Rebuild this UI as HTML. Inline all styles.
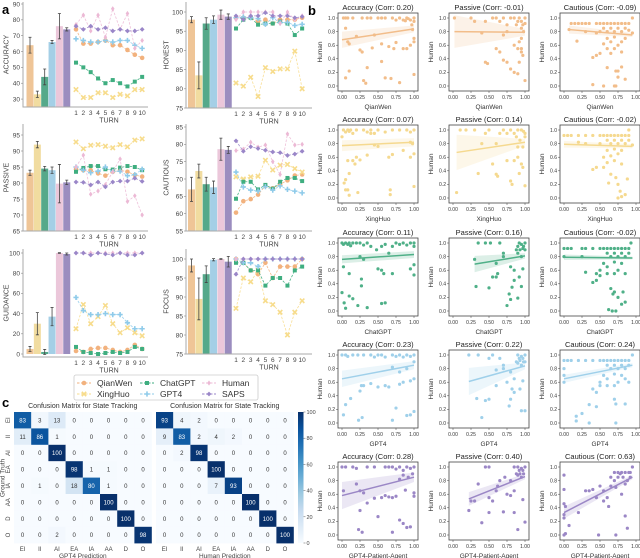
<!DOCTYPE html>
<html><head><meta charset="utf-8">
<style>
html,body{margin:0;padding:0;background:#fff;}
svg{display:block;font-family:"Liberation Sans","DejaVu Sans",sans-serif;}
</style></head>
<body>
<svg id="fig" width="640" height="558" viewBox="0 0 640 558" xmlns="http://www.w3.org/2000/svg"></svg>
<script>
// ---------- Panel a data ----------
const seriesNames=['QianWen','XingHuo','ChatGPT','GPT4','Human','SAPS'];
const turns=[1,2,3,4,5,6,7,8,9,10];
const accBars=[64,33,44,66,76,74];
const accErr=[5,2,5,1,8,1];
const accLines=[
[74,65,65,66,67,64,64,61,58,56],
[36,31,31,34,34,31,33,32,36,36],
[53,50,47,43,40,42,40,38,41,44],
[68,67,66,66,67,66,67,67,64,62],
[77,83,73,83,69,87,74,84,62,67],
[76,74,76,74,75,73,74,73,73,74]];
const honBars=[98,83.5,97,98,99.3,98.8];
const honErr=[0.8,3.5,1.5,1,1.2,0.7];
const honLines=[
[98.5,98.5,98.5,97.5,98,97,98,98,98,98.5],
[81.5,80.7,83,78,85.5,84.5,85.2,85.2,89.8,80],
[95.7,98,98.5,96.7,97,97,97.5,97,94,95.7],
[98.5,98.7,98.5,98.3,96.8,98.5,97.2,97.3,96.5,96.8],
[98,100,100,100,100,100,97,100,98,99],
[99,98,99,99,99.8,99,99,99,98.5,98.8]];
const pasBars=[83.2,92,84.5,84,79.8,80.2];
const pasErr=[0.8,1,0.7,1,6,0.7];
const pasLines=[
[84.3,84,84,83,82.3,83.5,84,83.5,82.5,82],
[92.8,90.7,91.8,92,91.5,91,92,91.3,93.4,93.8],
[83.5,84.7,85.3,85.3,84.3,84.2,84.8,85.3,85,84],
[85,84,83.2,83.7,85,83.6,83.7,82.3,82.6,84.3],
[85,88.7,76.5,77.5,79.5,83.5,87.5,74.2,76,70],
[80.3,80.2,79.4,80.3,78.8,80.3,80.6,80.6,81.5,80.5]];
const cauBars=[67,72.3,68.5,67.6,78.6,78.4];
const cauErr=[3.5,2,2,1.8,3.2,1];
const cauLines=[
[60.3,63.6,64.2,65.5,68,67.3,68.5,69.6,71,71.3],
[70.6,70,70.6,70.8,75.4,72.6,74,74.2,73,72],
[64.3,69.2,69.2,67,68.3,67.2,69.2,70.3,70.3,69.4],
[72,67.7,66.8,66.5,67.8,66.8,68,67,66.5,66],
[78.2,78.6,80.6,79.2,79.8,75,71.3,83,79.8,80],
[81,78,79.3,78.8,78.3,77.8,77.6,76.8,77.2,78]];
const guiBars=[5,30,2,37,100,99];
const guiErr=[2.5,11,2.5,9,0.3,1];
const guiLines=[
[3,2,5,6,6,4,2,4,9,5],
[25,49,30,37,48,30,21,26,21,18],
[7,2,1,0,1,2,1,2,7,5],
[56,43,39,39,40,39,39,31,25,25],
[100,100,100,100,100,100,100,100,100,100],
[100,100,98,100,99,98,100,98,98,100]];
const focBars=[98.3,89.5,96,99.8,100,99.3];
const focErr=[1.7,5.5,2.2,0.3,0.1,1.4];
const focLines=[
[100,99,97,96,99,95,98,98,98,100],
[87,95,94,97,89,88,86,80,86,89],
[99,99,97,97,93,95,95,93,97,98],
[100,99,99,98,100,100,100,100,100,100],
[100,100,100,100,100,100,100,100,100,100],
[96,100,100,100,100,100,100,100,100,100]];

// ---------- Panel c data ----------
const stateLabels=['EI','II','AI','EA','IA','AA','D','O'];
const cmGPT4=[
[83,3,13,0,0,0,0,0],[11,86,1,0,0,0,0,0],[0,0,100,0,0,0,0,0],[0,0,0,98,1,1,0,0],
[0,1,0,18,80,1,0,0],[0,0,0,0,0,100,0,0],[0,0,0,0,0,0,100,0],[0,0,2,0,0,0,0,98]];
const cmHuman=[
[93,4,2,0,0,0,0,0],[9,83,2,4,2,0,0,0],[0,2,98,0,0,0,0,0],[0,0,0,100,0,0,0,0],
[0,0,0,7,93,0,0,0],[0,0,0,0,0,100,0,0],[0,0,0,0,0,0,100,0],[0,0,0,0,0,0,0,100]];
const cbTicks=[0,20,40,60,80,100];

// ---------- Panel b data ----------
const scModels=['QianWen','XingHuo','ChatGPT','GPT4','GPT4-Patient-Agent'];
const scMetrics=['Accuracy','Passive','Cautious'];
const scCorr=[[0.20,-0.01,-0.09],[0.07,0.14,-0.02],[0.11,0.16,-0.02],[0.23,0.22,0.24],[0.28,0.40,0.63]];
// regression lines: [x0,y0,x1,y1]
const scLines=[
[[0,0.68,1,0.84],[0.02,0.80,1,0.79],[0.07,0.83,0.95,0.75]],
[[0,0.77,1,0.82],[0.05,0.67,1,0.82],[0,0.79,0.95,0.76]],
[[0,0.76,1,0.83],[0.3,0.69,1,0.81],[0,0.79,0.95,0.78]],
[[0,0.65,1,0.85],[0.22,0.61,1,0.84],[0,0.65,0.95,0.85]],
[[0,0.58,1,0.85],[0.22,0.53,1,0.86],[0,0.33,0.95,0.85]]];
// CI half-width at start / end
const scBand=[
[[0.12,0.05],[0.24,0.05],[0.06,0.03]],
[[0.08,0.06],[0.26,0.05],[0.05,0.03]],
[[0.06,0.05],[0.12,0.04],[0.04,0.02]],
[[0.12,0.06],[0.2,0.05],[0.06,0.03]],
[[0.2,0.07],[0.1,0.04],[0.09,0.03]]];
const accPtsA=[[.02,1],[.05,1],[.08,1],[.15,1],[.28,1],[.35,1],[.4,1],[.5,1],[.55,1],[.6,1],[.7,1],[.75,.97],[.8,1],[.85,.97],[.9,1],[.95,.97],[1,1],[1,.95],[.98,.83],[1,.7],[1,.65],[.95,.6],[.05,.85],[.08,.65],[.1,.62],[.05,.12],[.1,.22],[.25,.53],[.28,.5],[.3,.08],[.33,.04],[.35,.27],[.42,.56],[.55,.36],[.55,.62],[.6,.12],[.65,.58],[.68,.11],[.72,.55],[.75,.64],[.8,.05],[.85,.55],[.9,.55],[1,.17],[.45,.75],[.2,.73],[.88,.96],[.92,.99],[.97,.9]];
const accPtsB=[[.02,1],[.05,.97],[.08,1],[.1,.98],[.12,1],[.15,.95],[.2,1],[.3,1],[.35,.97],[.4,1],[.45,.95],[.5,1],[.6,.97],[.7,1],[.8,1],[.9,1],[.95,.97],[1,1],[0,.9],[.03,.22],[.05,.27],[.05,.12],[.08,.12],[.1,.04],[.08,.55],[.1,.36],[.15,.55],[.18,.5],[.2,.6],[.22,.08],[.25,.56],[.35,.63],[.45,.78],[.5,.76],[.65,.6],[.67,.12],[.67,.05],[.7,.64],[.85,.7],[.95,.6],[1,.65],[1,.17],[.95,.82],[.4,.95],[.98,.8]];
const accPtsC=[[0,1],[.02,.98],[.05,1],[.08,.98],[.1,1],[.12,.96],[.15,1],[.2,1],[.25,1],[.3,.97],[.35,1],[.4,.95],[.48,.9],[.55,.95],[.6,.98],[.7,.95],[.75,1],[.8,.98],[.85,1],[.9,.97],[.95,1],[1,1],[1,.95],[0,.27],[.02,.65],[.03,.12],[.05,.04],[.1,.55],[.1,.22],[.15,.18],[.22,.08],[.27,.47],[.27,.37],[.3,.76],[.35,.05],[.5,.62],[.55,.6],[.55,.11],[.58,.55],[.6,.12],[.7,.55],[.95,.62],[1,.53],[1,.68],[.25,.8],[.65,.85]];
const accPtsD=[[0,1],[.05,1],[.08,.98],[.15,1],[.22,1],[.3,1],[.4,1],[.45,.97],[.5,1],[.55,1],[.6,.97],[.7,1],[.75,.98],[.8,1],[.85,.97],[.9,1],[.95,.98],[1,1],[1,.9],[.02,.12],[.05,.27],[.12,.36],[.23,.04],[.28,.08],[.27,.55],[.3,.55],[.25,.47],[.4,.58],[.5,.53],[.6,.55],[.65,.53],[.7,.04],[.75,.22],[.8,.57],[.85,.6],[.9,.11],[.95,.12],[1,.17],[.95,.62],[1,.65],[.8,.75],[.9,.8],[.7,.82]];
const accPtsE=[[0,1],[.05,1],[.15,1],[.2,.98],[.35,1],[.45,1],[.6,1],[.65,1],[.7,1],[.75,.97],[.8,1],[.85,.95],[.9,1],[.95,.98],[1,1],[.98,.9],[.92,.85],[.85,.88],[.8,.82],[.02,.65],[.2,.75],[.25,.65],[.3,.62],[.35,.47],[.25,.36],[.23,.08],[.28,.04],[.45,.54],[.5,.27],[.55,.55],[.6,.58],[.65,.56],[.7,.55],[.75,.57],[.7,.04],[.8,.22],[.85,.17],[.9,.11],[.95,.12],[1,.62],[1,.57],[.88,.66]];
const pasPtsA=[[.02,1],[.25,1],[.3,.95],[.45,.95],[.55,1],[.6,1],[.65,.95],[.7,1],[.75,.9],[.8,1],[.85,1],[.88,.9],[.9,.95],[.92,1],[.95,.85],[.97,.9],[1,1],[.98,.8],[.95,.7],[.92,.65],[.9,.55],[.95,.5],[.97,.45],[.85,.6],[.75,.35],[.7,.38],[.65,.5],[.6,.55],[.45,.35],[.48,.33],[.8,.25],[.85,.2],[.9,.18],[.92,.35],[1,.08],[.95,.55],[.7,.75],[.75,.8],[.4,.78],[.95,.95],[1,.92]];
const pasPtsB=[[.05,.08],[.1,1],[.18,1],[.35,.36],[.45,.95],[.5,1],[.55,.5],[.6,.35],[.62,.32],[.65,.95],[.7,1],[.75,.55],[.8,.25],[.82,.2],[.85,.55],[.9,.6],[.95,.5],[1,.18],[.92,.36],[.97,.45],[.75,.95],[.8,1],[.85,.95],[.9,1],[.95,1],[.88,.9],[.93,.85],[1,.95],[.97,.75],[.9,.75],[.6,.8],[.4,.8],[.3,1],[.98,.98],[1,.9]];
const pasPtsC=[[.32,.36],[.3,.76],[.35,1],[.45,1],[.5,.34],[.52,1],[.55,.5],[.6,.5],[.62,.55],[.65,1],[.7,.8],[.75,.08],[.78,.25],[.8,.17],[.82,.35],[.85,.45],[.88,.9],[.9,.95],[.92,1],[.95,.98],[1,1],[.95,.8],[.97,.62],[.92,.5],[.95,.36],[.9,.19],[.85,.6],[.8,.65],[.7,.85],[.6,.7],[1,.9],[.93,.9],[.97,.92],[.9,.85],[.98,.95]];
const pasPtsD=[[.22,1],[.33,.36],[.35,1],[.4,.08],[.45,.33],[.5,.35],[.5,.95],[.55,1],[.6,.55],[.65,.95],[.7,.8],[.75,.6],[.78,.25],[.8,.35],[.82,.5],[.85,.45],[.88,.9],[.9,1],[.92,.95],[.95,.98],[1,1],[.95,.85],[.97,.62],[.93,.5],[.95,.18],[1,.18],[.85,.65],[.8,.75],[.7,.85],[.6,.78],[1,.9],[.93,.92],[.97,.95],[.9,.88],[.98,.9]];
const pasPtsE=[[.22,.36],[.25,.5],[.3,.5],[.35,.75],[.4,.18],[.45,1],[.5,1],[.5,.33],[.55,.5],[.6,.65],[.65,.8],[.7,.34],[.72,.85],[.75,.6],[.8,.58],[.85,.33],[.88,.9],[.9,1],[.92,.95],[.95,.98],[1,1],[.95,.85],[.97,.52],[.9,.08],[1,.19],[.85,.65],[.8,.8],[.93,.9],[.97,.95],[.9,.88],[.98,.9],[.85,1],[.62,.72],[.5,.55]];
const cauPtsA=[[.07,.83],[.1,.92],[.15,.92],[.2,.92],[.25,.92],[.3,.92],[.35,.92],[.45,.92],[.5,.92],[.55,.92],[.6,.92],[.65,.92],[.7,.92],[.75,.92],[.8,.92],[.85,.92],[.9,.92],[.95,1],[.55,.85],[.6,.8],[.65,.85],[.7,.8],[.75,.85],[.8,.8],[.85,.85],[.9,.82],[.95,.78],[.6,.7],[.65,.65],[.7,.72],[.75,.6],[.8,.65],[.85,.7],[.55,.62],[.6,.55],[.7,.55],[.8,.5],[.65,.48],[.18,.66],[.4,.42],[.45,.45],[.5,.48],[.4,.02],[.55,0],[.7,0],[.72,0],[.75,.13],[.72,.22],[.75,.22],[.8,.28],[.85,.1],[.6,.27],[.5,.8],[.45,.78],[.3,.8]];
const cauPtsB=[[0,.92],[.05,.92],[.1,.92],[.2,.92],[.3,.92],[.4,.92],[.5,.92],[.55,.92],[.6,.92],[.65,.92],[.7,.92],[.75,.92],[.8,.92],[.85,.92],[.9,.92],[.95,.78],[.9,1],[.6,.85],[.65,.8],[.7,.85],[.75,.8],[.8,.85],[.85,.8],[.9,.85],[.6,.7],[.65,.62],[.7,.72],[.75,.65],[.8,.7],[.55,.6],[.6,.52],[.7,.55],[.8,.5],[.4,.42],[.45,.45],[.55,.45],[.62,.22],[.65,.35],[.72,.3],[.75,.2],[.8,.02],[.75,0],[.78,.1],[.85,.05],[.88,.28],[.5,.8],[.3,.8],[.2,.82]];
const cauPtsC=[[0,.92],[.05,.92],[.1,.92],[.25,.92],[.3,.92],[.4,.92],[.5,.92],[.55,.92],[.6,.92],[.65,.92],[.7,.92],[.75,.92],[.8,.92],[.85,.92],[.9,.92],[.93,1],[.6,.85],[.65,.8],[.7,.85],[.75,.8],[.8,.85],[.85,.8],[.9,.85],[.55,.7],[.6,.65],[.7,.72],[.75,.6],[.8,.7],[.85,.55],[.5,.6],[.6,.55],[.7,.55],[.45,.55],[.3,.57],[.4,.42],[.45,.45],[.5,.52],[.65,.33],[.68,.25],[.7,.28],[.75,.2],[.62,.02],[.67,0],[.72,0],[.8,.1],[.82,.28],[.85,.13],[.25,.8],[0,.8]];
const cauPtsD=[[0,.92],[.05,.92],[.1,.92],[.2,.92],[.3,.92],[.4,.92],[.5,.92],[.55,.92],[.6,.92],[.65,.92],[.7,.92],[.75,.92],[.8,.92],[.85,.92],[.9,.92],[.95,1],[0,.8],[0,.7],[0,.6],[.6,.85],[.65,.8],[.7,.85],[.75,.8],[.8,.85],[.85,.8],[.9,.85],[.55,.7],[.6,.65],[.7,.72],[.75,.6],[.8,.7],[.85,.65],[.5,.6],[.6,.55],[.7,.55],[.4,.5],[.45,.45],[.5,.55],[.35,.27],[.45,.24],[.7,.35],[.72,.28],[.85,.28],[.17,.1],[.17,.03],[.25,.14],[.35,0],[.72,0],[.9,.6]];
const cauPtsE=[[0,.88],[0,.67],[0,.46],[.02,.42],[0,.3],[0,.25],[.02,.02],[0,0],[.07,.14],[.2,.33],[.3,.65],[.35,.65],[.4,.67],[.45,.55],[.48,0],[.5,.72],[.55,.65],[.55,.5],[.6,.55],[.62,.42],[.65,.72],[.7,.8],[.72,.7],[.75,.85],[.78,.9],[.8,.92],[.82,.85],[.85,.92],[.88,.8],[.9,.92],[.92,.85],[.95,1],[.7,.92],[.75,.92],[.85,.75],[.8,.6],[.72,0],[.85,.28],[.88,.1],[.92,.92],[.65,.85]];
const scPoints=[[accPtsA,pasPtsA,cauPtsA],[accPtsB,pasPtsB,cauPtsB],[accPtsC,pasPtsC,cauPtsC],[accPtsD,pasPtsD,cauPtsD],[accPtsE,pasPtsE,cauPtsE]];
const scTicks=[0,0.25,0.5,0.75,1];
const scYTicks=[0,0.2,0.4,0.6,0.8,1];

// ---------- drawing ----------
const NS='http://www.w3.org/2000/svg';
const svg=document.getElementById('fig');
function mk(tag,attrs,parent){const e=document.createElementNS(NS,tag);for(const k in attrs)e.setAttribute(k,attrs[k]);(parent||svg).appendChild(e);return e;}
function txt(s,x,y,size,anchor,parent,extra){const t=mk('text',Object.assign({x:x,y:y,'font-size':size,'text-anchor':anchor||'middle',fill:'#222'},extra||{}),parent);t.textContent=s;return t;}

const barColors=['#efc597','#f1dca0','#55a98a','#a4cfe6','#ebc7da','#9b8dbf'];
const lineColors=['#f2b27e','#f7dc8c','#3fae80','#8fcbea','#ecb9d5','#9a86c8'];
const markers=['o','x','s','P','d','D'];

function marker(shape,cx,cy,col,g){
  let m;
  if(shape==='o') m=mk('circle',{cx:cx,cy:cy,r:2.3,fill:col},g);
  else if(shape==='s') m=mk('rect',{x:cx-2,y:cy-2,width:4,height:4,fill:col},g);
  else if(shape==='x') m=mk('path',{d:`M${cx-2.2},${cy-2.2}L${cx+2.2},${cy+2.2}M${cx-2.2},${cy+2.2}L${cx+2.2},${cy-2.2}`,stroke:col,'stroke-width':1.6,fill:'none'},g);
  else if(shape==='P') m=mk('path',{d:`M${cx-2.6},${cy}L${cx+2.6},${cy}M${cx},${cy-2.6}L${cx},${cy+2.6}`,stroke:col,'stroke-width':1.6,fill:'none'},g);
  else if(shape==='d') m=mk('path',{d:`M${cx},${cy-2.6}L${cx+1.8},${cy}L${cx},${cy+2.6}L${cx-1.8},${cy}Z`,fill:col},g);
  else m=mk('path',{d:`M${cx},${cy-2.4}L${cx+2.4},${cy}L${cx},${cy+2.4}L${cx-2.4},${cy}Z`,fill:col},g);
  return m;
}

const subplots=[
 {name:'accuracy',label:'ACCURACY',bars:accBars,err:accErr,lines:accLines,lo:25,loY:107,hiV:90,hiY:4,ticks:[30,40,50,60,70,80,90],top:2,bottom:107,col:0},
 {name:'honest',label:'HONEST',bars:honBars,err:honErr,lines:honLines,lo:75,loY:108,hiV:100,hiY:12,ticks:[75,80,85,90,95,100],top:2,bottom:108,col:1},
 {name:'passive',label:'PASSIVE',bars:pasBars,err:pasErr,lines:pasLines,lo:65,loY:231,hiV:95,hiY:135,ticks:[65,70,75,80,85,90,95],top:124,bottom:231,col:0},
 {name:'cautious',label:'CAUTIOUS',bars:cauBars,err:cauErr,lines:cauLines,lo:55,loY:231,hiV:85,hiY:127,ticks:[55,60,65,70,75,80,85],top:124,bottom:231,col:1},
 {name:'guidance',label:'GUIDANCE',bars:guiBars,err:guiErr,lines:guiLines,lo:0,loY:354,hiV:100,hiY:253,ticks:[0,20,40,60,80,100],top:249,bottom:357,col:0},
 {name:'focus',label:'FOCUS',bars:focBars,err:focErr,lines:focLines,lo:75,loY:354,hiV:100,hiY:259,ticks:[75,80,85,90,95,100],top:249,bottom:354,col:1}];
const colGeom=[{ax:23,right:148,bar0:26.5,turn0:76,ylab:6},{ax:186,right:312,bar0:188,turn0:236,ylab:166}];

subplots.forEach(sp=>{
  const cg=colGeom[sp.col];
  const g=mk('g',{});
  
  
  const y=v=>sp.loY-(v-sp.lo)*(sp.loY-sp.hiY)/(sp.hiV-sp.lo);
  const bx=i=>cg.bar0+i*7.35;
  const tx=i=>cg.turn0+i*7.35;
  // bars
  sp.bars.forEach((v,i)=>{
    const r=mk('rect',{x:bx(i),y:y(v),width:7,height:sp.bottom-y(v)-(sp.bottom-sp.loY),fill:barColors[i]},g);
    
    
    const e=sp.err[i],cx=bx(i)+3.5;
    const eb=mk('path',{d:`M${cx},${y(v-e)}L${cx},${y(v+e)}M${cx-1.5},${y(v-e)}L${cx+1.5},${y(v-e)}M${cx-1.5},${y(v+e)}L${cx+1.5},${y(v+e)}`,stroke:'#444','stroke-width':0.8,fill:'none'},g);
    
    
  });
  // lines
  sp.lines.forEach((arr,si)=>{
    const pts=arr.map((v,i)=>tx(i)+','+y(v)).join(' ');
    const pl=mk('polyline',{points:pts,fill:'none',stroke:lineColors[si],'stroke-width':0.8,'stroke-dasharray':'2.5,1.5',opacity:0.9},g);
    
    
    arr.forEach((v,i)=>{const m=marker(markers[si],tx(i),y(v),lineColors[si],g);
      
      });
  });
  // spines
  const sp1=mk('path',{d:`M${cg.ax},${sp.top}L${cg.ax},${sp.bottom}L${cg.right},${sp.bottom}`,stroke:'#aaa','stroke-width':1,fill:'none'},g);
  
  
  sp.ticks.forEach(t=>{
    mk('line',{x1:cg.ax-2,x2:cg.ax,y1:y(t),y2:y(t),stroke:'#888','stroke-width':0.6},g);
    const tl=txt(String(t),cg.ax-3,y(t)+2.3,6.5,'end',g,{fill:'#444'});
    
    
  });
  turns.forEach((t,i)=>{
    const tl=txt(String(t),tx(i),sp.bottom+8,6.5,'middle',g,{fill:'#444'});
    
    
  });
  const xl=txt('TURN',cg.turn0+33,sp.bottom+15.5,7,'middle',g,{fill:'#444'});
  
  
  const yc=(sp.top+sp.bottom)/2;
  const yl=txt(sp.label,cg.ylab,yc,7,'middle',g,{fill:'#444',transform:`rotate(-90 ${cg.ylab} ${yc})`,dy:'2.5'});
  
  
});

// legend
(function(){
  const g=mk('g',{});
  
  
  const box=mk('rect',{x:74,y:375,width:184,height:25,rx:2,fill:'#fff',stroke:'#ccc','stroke-width':0.8},g);
  
  
  const order=[0,1,2,3,4,5];
  const cols=[77,140,202],rows=[383,394];
  order.forEach(si=>{
    const c=Math.floor(si/2),r=si%2;
    const eg=mk('g',{},g);
    
    
    const x0=cols[c],yy=rows[r];
    mk('line',{x1:x0,x2:x0+14,y1:yy,y2:yy,stroke:lineColors[si],'stroke-width':0.9,'stroke-dasharray':'2.5,1.5'},eg);
    marker(markers[si],x0+7,yy,lineColors[si],eg);
    txt(seriesNames[si],x0+20,yy+3,8.5,'start',eg,{fill:'#333'});
  });
})();

// panel letters
[['a',2,14],['b',308,15],['c',2,407]].forEach(([s,x,y])=>{
  const t=txt(s,x,y,13,'start',null,{'font-weight':'bold',fill:'#000'});
  
  
});

// ---------- heatmaps ----------
const blues=[[247,251,255],[222,235,247],[198,219,239],[158,202,225],[107,174,214],[66,146,198],[33,113,181],[8,81,156],[8,48,107]];
function bcol(v){const t=Math.max(0,Math.min(1,v/100))*(blues.length-1);const i=Math.min(Math.floor(t),blues.length-2),f=t-i;
  const c=blues[i].map((a,k)=>Math.round(a+(blues[i+1][k]-a)*f));return `rgb(${c[0]},${c[1]},${c[2]})`;}
function heatmap(mat,x0,title,xlabel,name){
  const g=mk('g',{});
  
  
  const cw=17.2,ch=16.4,y0=412;
  mat.forEach((row,r)=>row.forEach((v,c)=>{
    const cell=mk('rect',{x:x0+c*cw,y:y0+r*ch,width:cw+0.2,height:ch+0.2,fill:bcol(v)},g);
    
    
    txt(String(v),x0+c*cw+cw/2,y0+r*ch+ch/2+2.2,6,'middle',g,{fill:v>50?'#fff':'#333'});
  }));
  const tt=txt(title,x0+cw*4,y0-4,7,'middle',g,{fill:'#333'});
  
  
  stateLabels.forEach((s,i)=>{
    txt(s,x0+i*cw+cw/2,y0+8*ch+8,6,'middle',g,{fill:'#444'});
  });
  const xl=txt(xlabel,x0+cw*4,y0+8*ch+15,6.5,'middle',g,{fill:'#444'});
  
  
  return g;
}
const h1=heatmap(cmGPT4,14,'Confusion Matrix for State Tracking','GPT4 Prediction','confusion-matrix-gpt4');
heatmap(cmHuman,156,'Confusion Matrix for State Tracking','Human Prediction','confusion-matrix-human');
stateLabels.forEach((s,i)=>{
  const yy=412+i*16.4+8.2;
  txt(s,8,yy,6,'middle',null,{fill:'#444',transform:`rotate(-90 8 ${yy})`,dy:'2'});
});
(function(){const yl=txt('Ground Truth',2.5,478,6.5,'middle',null,{fill:'#444',transform:'rotate(-90 2.5 478)',dy:'2'});
  
  })();
// colorbar
(function(){
  const g=mk('g',{});
  
  
  const defs=mk('defs',{},g);
  const lg=mk('linearGradient',{id:'cbg',x1:0,y1:1,x2:0,y2:0},defs);
  blues.forEach((c,i)=>mk('stop',{offset:(i/(blues.length-1)),'stop-color':`rgb(${c[0]},${c[1]},${c[2]})`},lg));
  mk('rect',{x:298,y:412,width:5.5,height:131,fill:'url(#cbg)'},g);
  cbTicks.forEach(t=>{const yy=543-t/100*131;
    mk('line',{x1:303.5,x2:305.5,y1:yy,y2:yy,stroke:'#555','stroke-width':0.5},g);
    txt(String(t),306.5,yy+2,5.5,'start',g,{fill:'#444'});});
})();

// ---------- scatter grid ----------
const scColors=['#f2bd8a','#f5d98f','#4fb088','#9fd0ea','#9b87c6'];
const colL=[338,449,560],rowT=[13,125,238,350,462];
scModels.forEach((model,r)=>{
  scMetrics.forEach((met,c)=>{
    const L=colL[c],T=rowT[r],W=80,H=78;
    const g=mk('g',{});
    
    
    const X=v=>L+4+v*72,Y=v=>T+H-5-v*68;
    const col=scColors[r];
    const ln=scLines[r][c],bd=scBand[r][c];
    const band=mk('path',{d:`M${X(ln[0])},${Y(ln[1]+bd[0])}L${X(ln[2])},${Y(ln[3]+bd[1])}L${X(ln[2])},${Y(ln[3]-bd[1])}L${X(ln[0])},${Y(ln[1]-bd[0])}Z`,fill:col,opacity:0.2},g);
    
    
    scPoints[r][c].forEach(p=>{
      const d=mk('circle',{cx:X(p[0]),cy:Y(p[1]),r:1.6,fill:col},g);
      
      
    });
    const rl=mk('line',{x1:X(ln[0]),y1:Y(ln[1]),x2:X(ln[2]),y2:Y(ln[3]),stroke:col,'stroke-width':1.5},g);
    
    
    const fr=mk('rect',{x:L,y:T,width:W,height:H,fill:'none',stroke:'#444','stroke-width':0.8},g);
    
    
    scTicks.forEach(t=>{mk('line',{x1:X(t),x2:X(t),y1:T+H,y2:T+H+2,stroke:'#444','stroke-width':0.5},g);
      txt(t.toFixed(2),X(t),T+H+8,5,'middle',g,{fill:'#333'});});
    scYTicks.forEach(t=>{mk('line',{x1:L-2,x2:L,y1:Y(t),y2:Y(t),stroke:'#444','stroke-width':0.5},g);
      txt(t.toFixed(1),L-3,Y(t)+1.8,5,'end',g,{fill:'#333'});});
    const cs=scCorr[r][c];
    const tt=txt(`${met} (Corr: ${cs.toFixed(2)})`,L+W/2,T-3,7.5,'middle',g,{fill:'#222'});
    
    
    const xl=txt(model,L+W/2,T+H+18,6.5,'middle',g,{fill:'#333'});
    
    
    const yc=T+H/2,yx=L-16;
    const yl=txt('Human',yx,yc,6.5,'middle',g,{fill:'#333',transform:`rotate(-90 ${yx} ${yc})`});
    
    
  });
});
</script>
</body></html>
